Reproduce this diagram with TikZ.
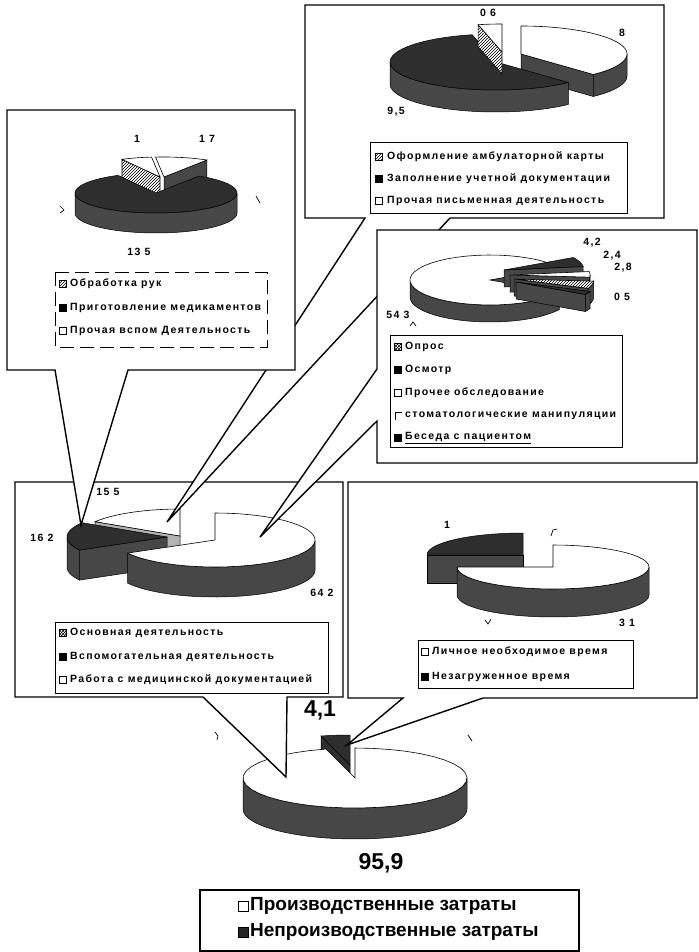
\documentclass[tikz,border=0pt]{standalone}
\usepackage{fontspec}
\setmainfont{Liberation Sans}
\newfontfamily\lgf{Liberation Sans}[LetterSpace=13]
\usetikzlibrary{patterns}

\newcommand\pieset[5]{\def\pcx{#1}\def\pcy{#2}\def\prx{#3}\def\pry{#4}\def\ph{#5}}
\newcommand\ptop[3]{\filldraw[#3] (\pcx,\pcy) -- plot[domain=#1:#2,samples=40] ({\pcx+\prx*cos(\x)},{\pcy-\pry*sin(\x)}) -- cycle;}
\newcommand\pside[3]{\filldraw[#3] plot[domain=#1:#2,samples=40] ({\pcx+\prx*cos(\x)},{\pcy-\pry*sin(\x)}) -- plot[domain=#2:#1,samples=40] ({\pcx+\prx*cos(\x)},{\pcy-\pry*sin(\x)+\ph}) -- cycle;}
\newcommand\pcut[2]{\filldraw[#2] (\pcx,\pcy) -- ({\pcx+\prx*cos(#1)},{\pcy-\pry*sin(#1)}) -- ({\pcx+\prx*cos(#1)},{\pcy-\pry*sin(#1)+\ph}) -- (\pcx,{\pcy+\ph}) -- cycle;}

\tikzset{
  frame/.style={draw=black, fill=white, line width=1.4pt, line join=miter},
  lgbox/.style={draw=black, line width=1pt},
  side/.style={fill=black!72, draw=black, line width=0.5pt},
  lside/.style={fill=black!30, draw=black, line width=0.5pt},
  dk/.style={fill=black!82, draw=black, line width=0.5pt},
  wt/.style={fill=white, draw=black, line width=0.6pt},
  ht/.style={fill=white, draw=black, line width=0.6pt, postaction={pattern=north east lines}},
  lbl/.style={font=\lgf\fontsize{10.5}{12}\selectfont\bfseries, inner sep=0pt},
  lgt/.style={font=\lgf\fontsize{10.5}{12}\selectfont\bfseries, anchor=west, inner sep=0pt},
  ico/.style={draw=black, line width=0.6pt, minimum size=7pt, inner sep=0pt},
  big/.style={font=\fontsize{23}{26}\selectfont\bfseries, inner sep=0pt},
  legtxt/.style={font=\fontsize{19}{22}\selectfont\bfseries, anchor=west, inner sep=0pt},
  speck/.style={line width=0.7pt},
}

\begin{document}
\begin{tikzpicture}[x=1pt,y=-1pt]
\useasboundingbox (0,0) rectangle (698,952);
\fill[white] (0,0) rectangle (698,952);

% ================= main pie (F)
\begin{scope}
\pieset{355}{778}{112}{30}{31}
\begin{scope}[shift={(-5,-13)}]
  \pcut{105}{dk}\ptop{90}{105}{dk}
\end{scope}
\pside{180}{360}{side}
\ptop{105}{450}{wt}
\end{scope}
\node[big] (n41) at (320,710) {4,1};
\node[big] (n959) at (381,863) {95,9};
\draw[speck] (215,732) -- (218,736) -- (217,740);
\draw[speck] (468,735) -- (472,741);

% ================= box D (bottom left)
\coordinate (D1) at (15,482); \coordinate (D2) at (343,482);
\coordinate (D3) at (343,697); \coordinate (D4) at (287,697);
\coordinate (Dtip) at (286,777); \coordinate (D5) at (203,697);
\coordinate (D6) at (15,697);
\draw[frame] (D1) -- (D2) -- (D3) -- (D4) -- (Dtip) -- (D5) -- (D6) -- cycle;
\begin{scope}
\pieset{215}{540}{100}{27}{30}
\begin{scope}[shift={(-35,-4)}]
  \pcut{148}{lside}\ptop{90}{148}{wt}
\end{scope}
\begin{scope}[shift={(-48,-3)}]
  \pcut{209}{side}\pside{180}{209}{side}\ptop{148}{209}{dk}
\end{scope}
\pside{209}{360}{side}
\ptop{209}{450}{wt}
\end{scope}
\node[lbl] (d155) at (108,492) {15 5};
\node[lbl] (d162) at (42,538) {16 2};
\node[lbl] (d642) at (322,593) {64 2};
\draw[lgbox] (55,622) rectangle (328,693);
\node[ico,fill=white,postaction={pattern=crosshatch}] (iD1) at (63,633) {};
\node[ico,fill=black] (iD2) at (63,657) {};
\node[ico,fill=white] (iD3) at (63,680) {};
\node[lgt] (tD1) at (70,633) {Основная деятельность};
\node[lgt] (tD2) at (70,657) {Вспомогательная деятельность};
\node[lgt] (tD3) at (70,680) {Работа с медицинской документацией};

% ================= box A (top right)
\coordinate (A1) at (305,5); \coordinate (A2) at (664,5);
\coordinate (A3) at (664,218); \coordinate (A4) at (450,218);
\coordinate (Atip) at (167,522); \coordinate (A5) at (365,218);
\coordinate (A6) at (305,218);
\draw[frame] (A1) -- (A2) -- (A3) -- (A4) -- (Atip) -- (A5) -- (A6) -- cycle;
\begin{scope}
\pieset{496}{62}{106}{28}{22}
\begin{scope}[shift={(25,-8)}]
  \pcut{313}{side}\pside{313}{360}{side}\ptop{313}{450}{wt}
\end{scope}
\pside{180}{313}{side}
\ptop{103}{313}{dk}
\begin{scope}[shift={(6,-10)}]
  \pcut{103}{ht}\ptop{90}{103}{wt}
\end{scope}
\end{scope}
\node[lbl] (a06) at (488,13) {0 6};
\node[lbl] (a8) at (622,33) {8};
\node[lbl] (a95) at (396,112) {9,5};
\draw[lgbox] (370,143) rectangle (627,213);
\node[ico,fill=white,postaction={pattern=north east lines}] (iA1) at (379,157) {};
\node[ico,fill=black] (iA2) at (379,179) {};
\node[ico,fill=white] (iA3) at (379,201) {};
\node[lgt] (tA1) at (387,157) {Оформление амбулаторной карты};
\node[lgt] (tA2) at (387,179) {Заполнение учетной документации};
\node[lgt] (tA3) at (387,201) {Прочая письменная деятельность};

% ================= box B (top left)
\coordinate (B1) at (7,110); \coordinate (B2) at (295,110);
\coordinate (B3) at (295,370); \coordinate (B4) at (128,370);
\coordinate (Btip) at (81,525); \coordinate (B5) at (55,370);
\coordinate (B6) at (7,370);
\draw[frame] (B1) -- (B2) -- (B3) -- (B4) -- (Btip) -- (B5) -- (B6) -- cycle;
\begin{scope}
\pieset{156}{193}{81}{20}{20}
\begin{scope}[shift={(4,-16)}]
  \pcut{118}{ht}\ptop{96}{118}{wt}
\end{scope}
\begin{scope}[shift={(8,-16)}]
  \pcut{58}{side}\ptop{58}{96}{wt}
\end{scope}
\pside{180}{360}{side}
\ptop{118}{418}{dk}
\end{scope}
\node[lbl] (b1) at (137,139) {1};
\node[lbl] (b17) at (207,139) {1 7};
\node[lbl] (b135) at (139,252) {13 5};
\draw[speck] (60,206) -- (64,210) -- (60,213);
\draw[speck] (256,196) -- (260,203);
\draw[lgbox, dash pattern=on 14pt off 6pt] (55,272) rectangle (267,347);
\node[ico,fill=white,postaction={pattern=north east lines}] (iB1) at (63,284) {};
\node[ico,fill=black] (iB2) at (63,308) {};
\node[ico,fill=white] (iB3) at (63,331) {};
\node[lgt] (tB1) at (70,284) {Обработка рук};
\node[lgt] (tB2) at (70,308) {Приготовление медикаментов};
\node[lgt] (tB3) at (70,331) {Прочая вспом Деятельность};

% ================= box C (middle right)
\coordinate (C1) at (377,230); \coordinate (C2) at (697,230);
\coordinate (C3) at (697,463); \coordinate (C4) at (377,463);
\coordinate (C5) at (377,421); \coordinate (Ctip) at (260,537);
\coordinate (C6) at (377,369);
\draw[frame] (C1) -- (C2) -- (C3) -- (C4) -- (C5) -- (Ctip) -- (C6) -- cycle;
\begin{scope}
\pieset{490}{280}{80}{25}{17}
\pcut{30}{side}\pside{180}{330}{side}\ptop{30}{330}{wt}
\begin{scope}[shift={(14,-10)}]
  \pcut{8}{side}\ptop{8}{30}{dk}
\end{scope}
\begin{scope}[shift={(20,-5)}]
  \pcut{-5}{side}\pside{-5}{0}{side}\ptop{-5}{8}{wt}
\end{scope}
\begin{scope}[shift={(24,-1)}]
  \pcut{-22}{side}\pside{-22}{-5}{side}\ptop{-22}{-5}{ht}
\end{scope}
\begin{scope}[shift={(26,2)}]
  \pcut{-30}{side}\pside{-30}{-22}{side}\ptop{-30}{-22}{dk}
\end{scope}
\end{scope}
\node[lbl] (c42) at (592,243) {4,2};
\node[lbl] (c24) at (612,256) {2,4};
\node[lbl] (c28) at (623,268) {2,8};
\node[lbl] (c05) at (622,297) {0 5};
\node[lbl] (c543) at (398,315) {54 3};
\draw[speck] (410,326) -- (413,322) -- (416,326);
\draw[lgbox] (390,335) rectangle (622,447);
\node[ico,fill=white,postaction={pattern=crosshatch}] (iC1) at (398,347) {};
\node[ico,fill=black] (iC2) at (398,370) {};
\node[ico,fill=white] (iC3) at (398,393) {};
\coordinate (iC4a) at (395,420); \coordinate (iC4b) at (395,412); \coordinate (iC4c) at (402,412);
\draw[line width=0.8pt] (iC4a) -- (iC4b) -- (iC4c);
\node[ico,fill=black] (iC5) at (398,438) {};
\node[lgt] (tC1) at (405,347) {Опрос};
\node[lgt] (tC2) at (405,370) {Осмотр};
\node[lgt] (tC3) at (405,393) {Прочее обследование};
\node[lgt] (tC4) at (405,416) {стоматологические манипуляции};
\node[lgt] (tC5) at (405,438) {\underline{Беседа с пациентом}};

% ================= box E (bottom right)
\coordinate (E1) at (348,482); \coordinate (E2) at (697,482);
\coordinate (E3) at (697,698); \coordinate (E4) at (483,698);
\coordinate (Etip) at (347,745); \coordinate (E5) at (403,698);
\coordinate (E6) at (348,698);
\draw[frame] (E1) -- (E2) -- (E3) -- (E4) -- (Etip) -- (E5) -- (E6) -- cycle;
\begin{scope}
\pieset{553}{567}{96}{22}{28}
\begin{scope}[shift={(-30,-12)}]
  \pcut{180}{side}\ptop{90}{180}{dk}
\end{scope}
\pside{180}{360}{side}
\ptop{180}{450}{wt}
\end{scope}
\node[lbl] (e1) at (447,525) {1};
\node[lbl] (e31) at (627,623) {3 1};
\draw[speck] (551,536) -- (553,530) -- (557,529);
\draw[speck] (485,620) -- (488,624) -- (491,619);
\draw[lgbox] (418,640) rectangle (633,688);
\node[ico,fill=white] (iE1) at (425,652) {};
\node[ico,fill=black] (iE2) at (425,677) {};
\node[lgt] (tE1) at (432,652) {Личное необходимое время};
\node[lgt] (tE2) at (432,677) {Незагруженное время};

% ================= bottom legend
\draw[line width=1.2pt] (200,951) -- (200,890) -- (579,890) -- (579,951) -- cycle;
\node[ico,fill=white,minimum size=10pt,line width=1pt] (iL1) at (243,906) {};
\node[ico,fill=black!85,minimum size=10pt,line width=1pt] (iL2) at (243,932) {};
\node[legtxt] (tL1) at (250,906) {Производственные затраты};
\node[legtxt] (tL2) at (250,932) {Непроизводственные затраты};
\end{tikzpicture}
\end{document}
